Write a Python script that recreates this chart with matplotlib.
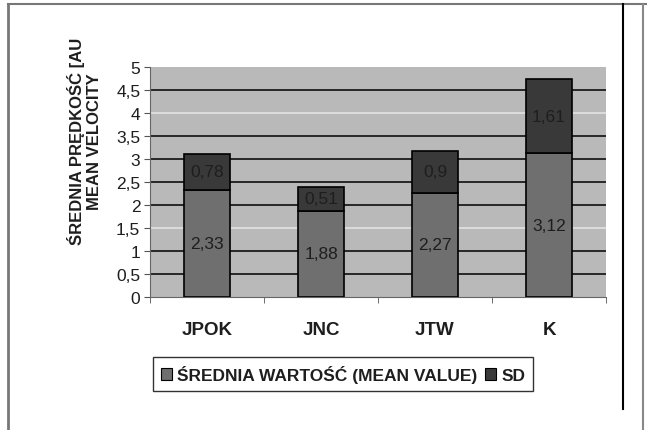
import numpy as np
import matplotlib
matplotlib.use("Agg")
import matplotlib.pyplot as plt
import matplotlib.patches as mpatches

plt.rcParams["font.family"] = ["Liberation Sans", "DejaVu Sans"]

# ─── Dane ─────────────────────────────────────────────────────────────────────
groups = ["JPOK", "JNC", "JTW", "K"]
mean_vals = [2.33, 1.88, 2.27, 3.12]
sd_vals = [0.78, 0.51, 0.9, 1.61]
y_ticks = [0, 0.5, 1, 1.5, 2, 2.5, 3, 3.5, 4, 4.5, 5]

MEAN_C = "#6f6f6f"
SD_C = "#393939"
PLOT_BG = "#b9b9b9"
TXT = "#1e1e1e"

fig = plt.figure(figsize=(6.47, 4.31), dpi=100, facecolor="white")
ax = fig.add_axes([150 / 647, 1 - 298 / 431, 456 / 647, 230 / 431])
ax.set_facecolor(PLOT_BG)

x = np.arange(len(groups))
ax.bar(x, mean_vals, width=0.41, color=MEAN_C, edgecolor="black", linewidth=1.2, zorder=3)
ax.bar(x, sd_vals, bottom=mean_vals, width=0.41, color=SD_C, edgecolor="black",
       linewidth=1.2, zorder=3)

# etykiety wartości
fmt = lambda v: f"{v:g}".replace(".", ",")
for xi, m, s in zip(x, mean_vals, sd_vals):
    ax.text(xi, m / 2, fmt(m), ha="center", va="center", fontsize=12.5, color=TXT, zorder=4)
    ax.text(xi, m + s / 2, fmt(s), ha="center", va="center", fontsize=12.5, color=TXT, zorder=4)

# linie siatki
for yv in y_ticks[1:-1]:
    col = "#e6e6e6" if yv in (1.5, 4) else "black"
    ax.axhline(yv, color=col, linewidth=1.1, zorder=1)

ax.set_xlim(-0.5, len(groups) - 0.5)
ax.set_ylim(0, 5)
ax.set_yticks(y_ticks)
ax.set_yticklabels([fmt(t) for t in y_ticks], fontsize=12.5, color=TXT)
ax.set_xticks(x)
ax.set_xticklabels(groups, fontsize=13.5, fontweight="bold", color=TXT)
ax.tick_params(axis="x", length=0, pad=17)
ax.set_xticks(np.arange(len(groups) + 1) - 0.5, minor=True)
ax.tick_params(axis="x", which="minor", length=4, color="#555555")
ax.tick_params(axis="y", length=4, color="#555555", pad=3)

for side in ["top", "right"]:
    ax.spines[side].set_visible(False)
ax.spines["left"].set_color("#666666")
ax.spines["bottom"].set_color("#666666")

ax.set_ylabel("ŚREDNIA PRĘDKOŚĆ [AU\nMEAN VELOCITY", fontsize=12, fontweight="bold",
              color=TXT, linespacing=1.2)
ax.yaxis.set_label_coords(-0.105, 0.68)

handles = [mpatches.Patch(facecolor=MEAN_C, edgecolor="black", linewidth=0.8,
                          label="ŚREDNIA WARTOŚĆ (MEAN VALUE)"),
           mpatches.Patch(facecolor=SD_C, edgecolor="black", linewidth=0.8, label="SD")]
leg = fig.legend(handles=handles, ncol=2, loc="center", bbox_to_anchor=(343 / 647, 1 - 375 / 431),
                 frameon=True, fancybox=False, edgecolor="black", handlelength=0.65,
                 handleheight=0.65, handletextpad=0.3, columnspacing=0.4, borderpad=0.45,
                 borderaxespad=0, prop={"weight": "bold", "size": 12.5})
leg.get_frame().set_linewidth(1.0)
for t in leg.get_texts():
    t.set_color(TXT)

# ramka wokół rysunku
fig.add_artist(plt.Line2D([8 / 647, 8 / 647], [0, 1 - 5 / 431], color="#777777", lw=2))
fig.add_artist(plt.Line2D([8 / 647, 1], [1 - 5 / 431, 1 - 5 / 431], color="#777777", lw=1.5))
fig.add_artist(plt.Line2D([623 / 647, 623 / 647], [1 - 410 / 431, 1 - 5 / 431], color="black", lw=1.5))
fig.add_artist(plt.Line2D([643 / 647, 643 / 647], [0, 1 - 5 / 431], color="#888888", lw=1.5))

fig.savefig("out.png", dpi=100, facecolor="white")
